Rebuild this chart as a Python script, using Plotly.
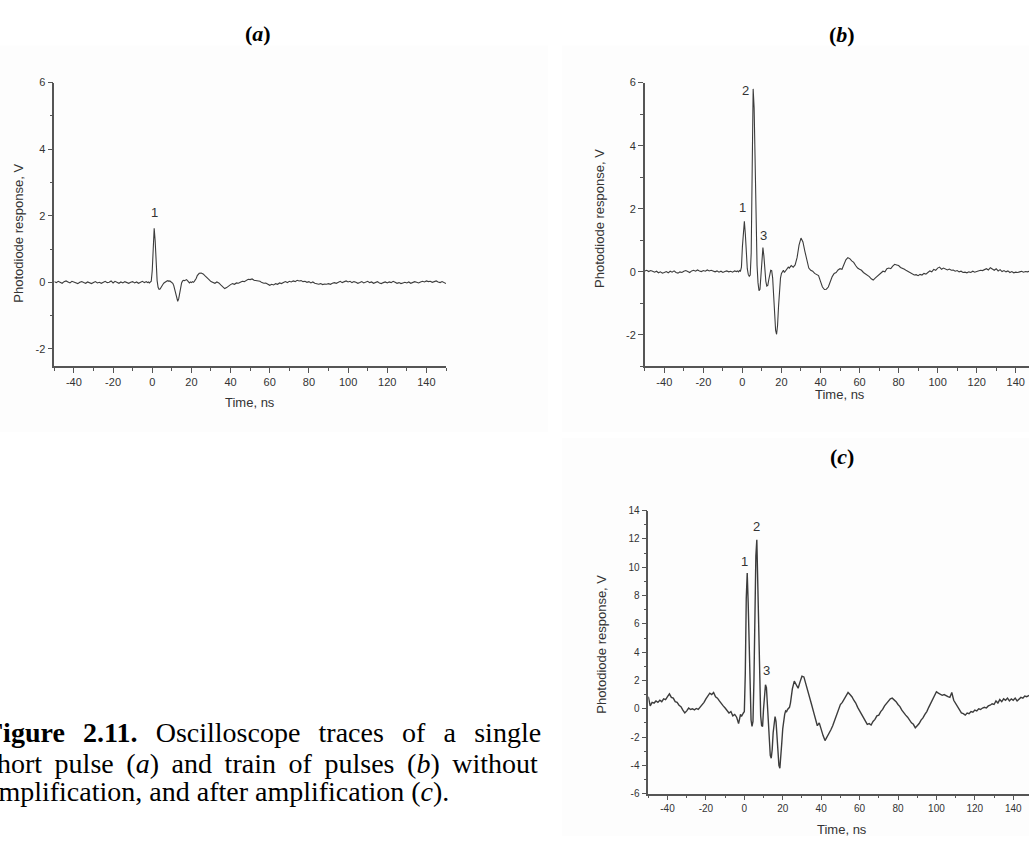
import numpy as np
import plotly.graph_objects as go

W, H = 1029, 842

# Sampling grid in ns: 1 ns steps on the quiet baseline, 0.5 ns across the pulse train
time_ns = np.concatenate([
    np.arange(-50, -2, 1.0),
    np.arange(-2.5, 24.01, 0.5),
    np.arange(25, 151, 1.0),
])

# (a) single short pulse, no amplification
volts_a = [
    0.02, -0.01, 0.03, 0.00, -0.03, 0.02, 0.04, 0.01, -0.02, 0.03,
    0.01, -0.02, -0.04, 0.00, 0.02, -0.01, -0.03, 0.01, -0.02, -0.04,
    -0.01, 0.02, -0.02, 0.00, -0.03, 0.01, 0.03, -0.01, 0.00, 0.04,
    -0.02, 0.03, 0.00, -0.03, 0.01, -0.02, 0.02, -0.01, -0.03, 0.00,
    0.02, -0.02, 0.01, -0.03, 0.00, 0.03, -0.01, 0.02,
    # -2.5 .. 24 ns
    -0.01, 0.01, -0.02, 0.00, 0.03, 0.35, 1.15, 1.62, 1.25, 0.55,
    0.05, -0.15, -0.21, -0.20, -0.14, -0.09, -0.06, -0.02, 0.01, 0.03,
    0.04, 0.05, 0.03, 0.04, 0.02, -0.01, -0.03, -0.10, -0.22, -0.40,
    -0.53, -0.57, -0.50, -0.33, -0.15, -0.02, 0.04, 0.06, 0.05, 0.07,
    0.08, 0.05, 0.02, -0.02, 0.01, -0.01, 0.02, 0.00, 0.03, 0.06,
    0.12, 0.20, 0.24, 0.27,
    # 25 .. 150 ns
    0.28, 0.25, 0.19, 0.12, 0.08, 0.02, 0.00, -0.03, 0.01, -0.02,
    -0.08, -0.15, -0.19, -0.16, -0.10, -0.07, -0.04, -0.06, -0.02, -0.03,
    0.00, 0.03, 0.02, 0.06, 0.09, 0.08, 0.10, 0.06, 0.05, 0.02,
    0.03, -0.01, -0.03, -0.02, -0.06, -0.09, -0.06, -0.08, -0.04, -0.06,
    -0.02, -0.04, -0.01, 0.02, -0.01, 0.03, 0.01, 0.04, 0.02, 0.06,
    0.04, 0.05, 0.02, 0.03, 0.00, 0.02, -0.02, 0.01, -0.03, -0.04,
    -0.06, -0.04, -0.07, -0.05, -0.06, -0.04, -0.06, -0.03, -0.01, -0.03,
    0.01, 0.03, -0.01, 0.02, 0.04, 0.01, 0.03, -0.01, 0.02, 0.00,
    -0.03, -0.01, 0.02, -0.02, 0.00, 0.03, -0.01, 0.01, -0.03, -0.01,
    0.02, -0.02, -0.04, -0.01, 0.01, -0.02, 0.01, -0.01, 0.03, 0.00,
    -0.03, -0.01, -0.04, -0.02, 0.00, -0.02, 0.01, -0.03, -0.01, 0.02,
    0.00, -0.02, 0.01, 0.03, 0.01, 0.04, 0.02, 0.03, 0.00, 0.02,
    0.04, 0.01, -0.01, 0.02, -0.02, -0.04,
]

# (b) train of pulses, no amplification
volts_b = [
    0.03, 0.05, 0.01, 0.04, 0.02, -0.01, 0.02, -0.03, 0.00, -0.04,
    -0.02, 0.01, -0.03, 0.02, -0.01, 0.03, -0.02, -0.04, 0.00, -0.02,
    0.02, 0.04, 0.01, -0.02, 0.03, 0.05, 0.02, 0.06, 0.03, 0.01,
    0.04, 0.02, 0.06, 0.03, 0.05, 0.02, 0.00, 0.03, -0.01, 0.02,
    -0.02, 0.01, 0.03, 0.00, 0.02, -0.01, 0.03, 0.01,
    # -2.5 .. 24 ns
    0.03, 0.00, 0.04, 0.02, 0.15, 0.80, 1.45, 1.60, 1.20, 0.55,
    0.10, -0.08, -0.14, -0.10, 0.60, 3.20, 5.80, 5.20, 3.00, 1.20,
    0.20, -0.35, -0.60, -0.55, -0.10, 0.55, 0.77, 0.50, 0.05, -0.30,
    -0.45, -0.43, -0.25, -0.05, 0.05, 0.04, -0.20, -0.75, -1.40, -1.85,
    -1.98, -1.70, -1.10, -0.55, -0.20, -0.05, 0.00, 0.05, -0.02, 0.03,
    0.08, 0.10, 0.15, 0.12,
    # 25 .. 150 ns
    0.20, 0.15, 0.22, 0.45, 0.85, 1.07, 0.95, 0.65, 0.35, 0.12,
    0.05, 0.02, -0.05, -0.10, -0.12, -0.30, -0.48, -0.56, -0.55, -0.48,
    -0.30, -0.15, -0.05, -0.02, 0.06, 0.10, 0.08, 0.25, 0.38, 0.45,
    0.42, 0.35, 0.30, 0.20, 0.12, 0.08, 0.05, -0.02, -0.06, -0.10,
    -0.15, -0.22, -0.26, -0.20, -0.14, -0.08, -0.05, 0.02, 0.00, 0.10,
    0.12, 0.10, 0.18, 0.24, 0.22, 0.20, 0.14, 0.12, 0.08, 0.04,
    0.00, -0.02, -0.06, -0.10, -0.09, -0.12, -0.08, -0.10, -0.05, -0.07,
    -0.02, 0.03, 0.00, 0.08, 0.05, 0.12, 0.15, 0.08, 0.12, 0.10,
    0.06, 0.09, 0.05, 0.06, 0.02, 0.04, 0.00, 0.02, -0.02, -0.01,
    -0.03, 0.00, -0.02, 0.02, -0.01, 0.01, 0.03, 0.05, 0.04, 0.08,
    0.10, 0.06, 0.13, 0.09, 0.05, 0.10, 0.03, 0.07, 0.01, 0.04,
    0.00, 0.03, -0.02, 0.01, -0.03, -0.01, -0.02, 0.00, 0.02, -0.01,
    0.01, 0.00, 0.02, -0.01, 0.01, 0.00,
]

# (c) train of pulses after amplification
volts_c = [
    0.85, 0.20, 0.45, 0.40, 0.55, 0.45, 0.60, 0.50, 0.70, 0.65,
    0.85, 1.05, 0.80, 0.75, 0.50, 0.45, 0.25, 0.15, -0.10, -0.30,
    -0.15, 0.05, -0.05, 0.00, -0.08, 0.02, -0.05, 0.10, 0.25, 0.45,
    0.70, 0.95, 1.10, 1.00, 1.15, 0.85, 0.75, 0.55, 0.35, 0.20,
    0.05, -0.15, -0.30, -0.20, -0.50, -0.40, -0.60, -1.05,
    # -2.5 .. 24 ns
    -0.55, -0.40, -0.55, -0.35, -0.30, -0.20, 2.50, 7.80, 9.60, 7.50,
    3.80, 0.80, -0.80, -1.25, -0.90, 2.00, 6.50, 10.80, 11.95, 9.00,
    4.80, 1.50, -0.50, -1.20, -1.25, 0.00, 1.20, 1.70, 1.50, 0.40,
    -1.00, -2.40, -3.30, -3.50, -2.90, -1.70, -0.80, -0.55, -0.90, -2.00,
    -3.20, -4.00, -4.20, -3.50, -2.40, -1.40, -0.80, -0.40, -0.15, -0.20,
    -0.05, 0.00, 0.10, 0.40,
    # 25 .. 150 ns
    1.40, 1.95, 1.70, 1.45, 1.90, 2.30, 2.25, 1.80, 1.30, 0.80,
    0.30, -0.20, -0.65, -1.20, -1.00, -1.50, -1.90, -2.25, -2.00, -1.85,
    -1.50, -1.20, -0.85, -0.50, -0.10, 0.30, 0.45, 0.70, 0.85, 1.15,
    1.00, 0.85, 0.60, 0.40, 0.10, -0.15, -0.40, -0.70, -0.95, -1.10,
    -1.05, -1.15, -0.90, -0.75, -0.50, -0.45, -0.20, -0.05, 0.20, 0.35,
    0.55, 0.70, 0.75, 0.65, 0.50, 0.30, 0.15, -0.10, -0.30, -0.45,
    -0.60, -0.85, -1.00, -1.10, -1.35, -1.20, -1.05, -0.80, -0.65, -0.40,
    -0.20, 0.10, 0.35, 0.60, 0.90, 1.20, 1.10, 1.05, 0.95, 1.00,
    0.90, 0.85, 0.80, 1.15, 0.60, 0.35, 0.10, -0.10, -0.30, -0.35,
    -0.45, -0.30, -0.35, -0.20, -0.25, -0.10, -0.15, 0.00, -0.05, 0.05,
    0.10, 0.05, 0.20, 0.25, 0.35, 0.30, 0.55, 0.40, 0.65, 0.50,
    0.70, 0.60, 0.75, 0.55, 0.70, 0.60, 0.75, 0.55, 0.70, 0.80,
    0.75, 0.90, 0.85, 0.95, 1.00, 1.05,
]

# Tick values and labels (plain hyphen for negatives)
x_tick_vals = [-40, -20, 0, 20, 40, 60, 80, 100, 120, 140]
x_tick_text = ["-40", "-20", "0", "20", "40", "60", "80", "100", "120", "140"]
x_minor_vals = [-50, -30, -10, 10, 30, 50, 70, 90, 110, 130, 150]
y_tick_vals_ab = [-2, 0, 2, 4, 6]
y_tick_text_ab = ["-2", "0", "2", "4", "6"]
y_minor_vals_ab = [-3, -1, 1, 3, 5]
y_tick_vals_c = [-6, -4, -2, 0, 2, 4, 6, 8, 10, 12, 14]
y_tick_text_c = ["-6", "-4", "-2", "0", "2", "4", "6", "8", "10", "12", "14"]
y_minor_vals_c = [-5, -3, -1, 1, 3, 5, 7, 9, 11, 13]

# Pulse numbers: (panel, label, time ns, volts)
pulse_labels = [
    ("a", "1", 1.1, 2.1),
    ("b", "1", 0.0, 2.04),
    ("b", "2", 1.7, 5.74),
    ("b", "3", 10.8, 1.14),
    ("c", "1", 0.2, 10.4),
    ("c", "2", 6.4, 12.9),
    ("c", "3", 11.6, 2.72),
]

panel_titles = ["(<i>a</i>)", "(<i>b</i>)", "(<i>c</i>)"]
x_title = "Time, ns"
y_title = "Photodiode response, V"

# Caption words per line; the first two lines are set justified
caption_words = [
    ["<b>Figure", "2.11.</b>", "Oscilloscope", "traces", "of", "a", "single"],
    ["short", "pulse", "(<i>a</i>)", "and", "train", "of", "pulses", "(<i>b</i>)", "without"],
    ["amplification,", "and", "after", "amplification", "(<i>c</i>)."],
]
NBSP = "\u00a0"
THIN = "\u2009"
caption_gap = [NBSP + THIN + THIN, NBSP + THIN, NBSP]

SANS = "Liberation Sans, Arial, sans-serif"
SERIF = "Liberation Serif, Times New Roman, serif"
AXIS_COL = "#555555"
TRACE_COL = "#3c3c3c"


def fx(px):
    return px / W


def fy(py):
    return 1 - py / H


def axis(domain, rng, vals, text, minor_vals, font_size, anchor):
    return dict(
        domain=domain, range=rng, anchor=anchor,
        tickmode="array", tickvals=vals, ticktext=text,
        showline=True, linecolor=AXIS_COL, linewidth=1.6,
        ticks="outside", ticklen=5, tickwidth=1, tickcolor=AXIS_COL,
        minor=dict(ticks="outside", ticklen=3, tickwidth=1,
                   tickcolor=AXIS_COL, tickmode="array", tickvals=minor_vals),
        showgrid=False, zeroline=False,
        tickfont=dict(family=SANS, size=font_size, color="#333"),
        fixedrange=True,
    )


fig = go.Figure()
for vals, xa, ya, lw in [(volts_a, "x", "y", 1.1), (volts_b, "x2", "y2", 1.1),
                         (volts_c, "x3", "y3", 1.4)]:
    fig.add_trace(go.Scatter(
        x=time_ns, y=vals, xaxis=xa, yaxis=ya, mode="lines",
        line=dict(color=TRACE_COL, width=lw), showlegend=False,
        hoverinfo="skip",
    ))

fig.update_layout(
    width=W, height=H, margin=dict(l=0, r=0, t=0, b=0),
    paper_bgcolor="white", plot_bgcolor="rgba(0,0,0,0)",
    xaxis=axis([fx(54.3), fx(446)], [-50, 150],
               x_tick_vals, x_tick_text, x_minor_vals, 11, "y"),
    yaxis=axis([fy(365.7), fy(77.7)], [-2.53, 6],
               y_tick_vals_ab, y_tick_text_ab, y_minor_vals_ab, 11, "x"),
    xaxis2=axis([fx(644.8), 1.0], [-50, 146.8],
                x_tick_vals, x_tick_text, x_minor_vals, 11, "y2"),
    yaxis2=axis([fy(365.7), fy(77.7)], [-3, 6],
                y_tick_vals_ab, y_tick_text_ab, y_minor_vals_ab, 11, "x2"),
    xaxis3=axis([fx(648.3), 1.0], [-50, 148.2],
                x_tick_vals, x_tick_text, x_minor_vals, 10, "y3"),
    yaxis3=axis([fy(799), fy(512)], [-6, 14],
                y_tick_vals_c, y_tick_text_c, y_minor_vals_c, 10, "x3"),
)

# faint page panels behind each plot
for x0, y0, x1, y1 in [(0, 40, 548, 432), (562, 40, 1029, 432), (562, 438, 1029, 842)]:
    fig.add_shape(type="rect", xref="paper", yref="paper",
                  x0=fx(x0), x1=fx(x1), y0=fy(y1), y1=fy(y0),
                  fillcolor="#fdfdfd", line=dict(width=0), layer="below")

ann = []
axis_ids = {"a": ("x", "y"), "b": ("x2", "y2"), "c": ("x3", "y3")}
for panel, text, t, v in pulse_labels:
    xr, yr = axis_ids[panel]
    ann.append(dict(text=text, x=t, y=v, xref=xr, yref=yr, showarrow=False,
                    xanchor="center", yanchor="middle",
                    font=dict(family=SANS, size=13, color="#333333")))

# axis titles
for (xt, yt), (yx, yy) in [((250, 402), (19, 231)), ((840, 394), (600, 216)),
                           ((842, 835), (602, 648))]:
    ann.append(dict(text=x_title, x=fx(xt), y=fy(yt), xref="paper", yref="paper",
                    xanchor="center", yanchor="middle", showarrow=False,
                    font=dict(family=SANS, size=13, color="#333333")))
    ann.append(dict(text=y_title, x=fx(yx), y=fy(yy), xref="paper", yref="paper",
                    xanchor="center", yanchor="middle", showarrow=False,
                    textangle=-90, font=dict(family=SANS, size=13, color="#333333")))

# panel letters
for text, (px, py) in zip(panel_titles, [(258, 28), (842, 29), (842, 457)]):
    ann.append(dict(text="<b>" + text + "</b>", x=fx(px), y=fy(py), xref="paper",
                    yref="paper", xanchor="center", yanchor="middle",
                    showarrow=False, font=dict(family=SERIF, size=22, color="black")))

# figure caption (runs off the left edge of the page)
for words, gap, py in zip(caption_words, caption_gap, [737, 768, 797]):
    ann.append(dict(text=gap.join(words), x=fx(-16), y=fy(py), xref="paper",
                    yref="paper", xanchor="left", yanchor="middle",
                    showarrow=False, font=dict(family=SERIF, size=28, color="black")))

fig.update_layout(annotations=ann)
fig.write_html("out.html")
